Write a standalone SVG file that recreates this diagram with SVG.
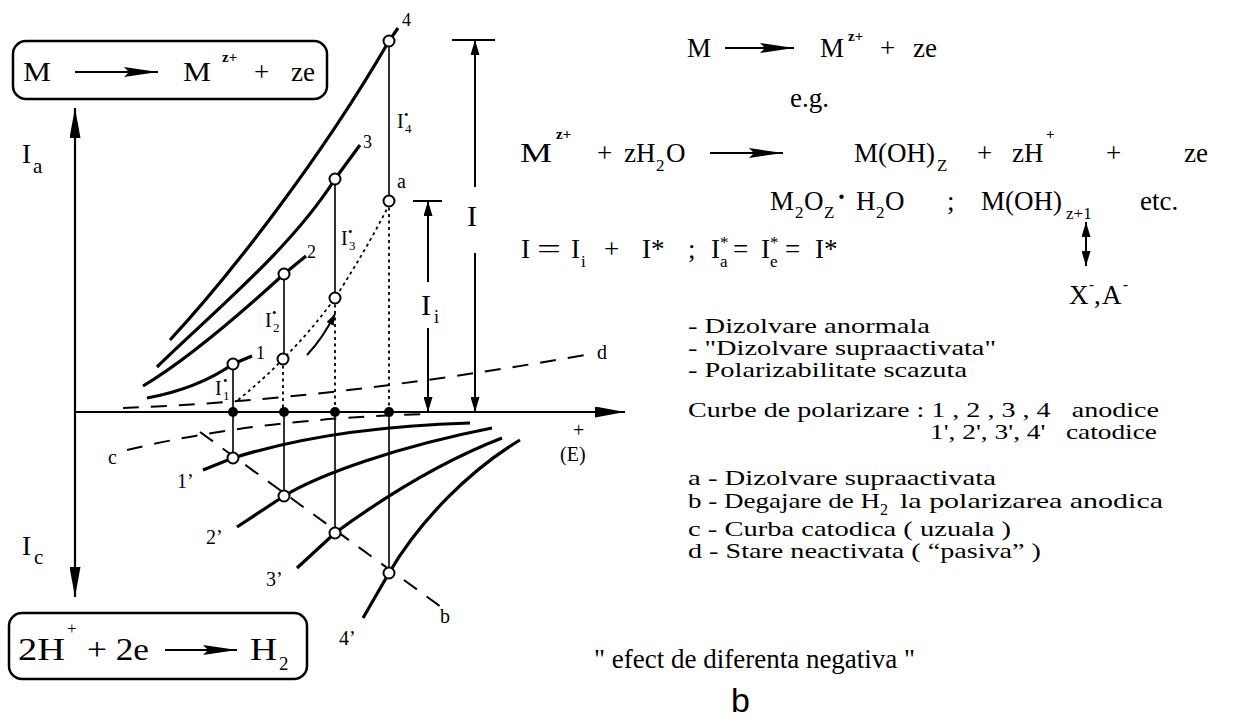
<svg xmlns="http://www.w3.org/2000/svg" width="1243" height="725" viewBox="0 0 1243 725">
<defs>
<style>
text{font-family:"Liberation Serif","Times New Roman",serif;fill:#000}
.t27{font-size:27px}
.t21{font-size:21px}
.sub{font-size:17px}
.sup{font-size:15px;font-weight:bold}
.lbl{font-size:20px}
.sm{font-size:18px}
.thick{fill:none;stroke:#000;stroke-width:3.2}
.thin{fill:none;stroke:#000;stroke-width:1.6}
.dash{fill:none;stroke:#000;stroke-width:2;stroke-dasharray:16 12}
.dot{fill:none;stroke:#000;stroke-width:1.8;stroke-dasharray:3 3.5}
.open{fill:#fff;stroke:#000;stroke-width:2}
.solid{fill:#000}
.box{fill:none;stroke:#000;stroke-width:2.5}
.ax{fill:none;stroke:#000;stroke-width:2.2}
.eqa{fill:none;stroke:#000;stroke-width:2}
.dimw{fill:none;stroke:#000;stroke-width:2}
</style>
<marker id="axh" viewBox="0 0 30 11" refX="30" refY="5.5" markerWidth="30" markerHeight="11" markerUnits="userSpaceOnUse" orient="auto-start-reverse"><path d="M0,0 L30,5.5 L0,11 Z"/></marker>
<marker id="dim" viewBox="0 0 15 9" refX="15" refY="4.5" markerWidth="15" markerHeight="9" markerUnits="userSpaceOnUse" orient="auto-start-reverse"><path d="M0,0 L15,4.5 L0,9 Z"/></marker>
<marker id="eqh" viewBox="0 0 34 10" refX="34" refY="5" markerWidth="34" markerHeight="10" markerUnits="userSpaceOnUse" orient="auto"><path d="M0,0 L34,5 L0,10 L5,5 Z"/></marker>
<marker id="smh" viewBox="0 0 11 8" refX="11" refY="4" markerWidth="11" markerHeight="8" markerUnits="userSpaceOnUse" orient="auto"><path d="M0,0 L11,4 L0,8 Z"/></marker>
</defs>
<rect width="1243" height="725" fill="#fff"/>

<g id="box-anodic">
<rect class="box" x="13" y="41" width="314" height="58" rx="13"/>
<text class="t27" x="23" y="81" textLength="28" lengthAdjust="spacingAndGlyphs">M</text>
<path class="eqa" d="M75,72 H158" marker-end="url(#eqh)"/>
<text class="t27" x="183" y="81" textLength="28" lengthAdjust="spacingAndGlyphs">M</text>
<text class="sup" x="222" y="62">z+</text>
<text class="t27" x="254" y="81">+</text>
<text class="t27" x="291" y="81">ze</text>
</g>

<g id="box-cathodic">
<rect class="box" x="9" y="613" width="298" height="66" rx="13"/>
<text x="18" y="660" font-size="31" textLength="47" lengthAdjust="spacingAndGlyphs">2H</text>
<text x="67" y="634" font-size="17">+</text>
<text x="87" y="660" font-size="31" textLength="62" lengthAdjust="spacingAndGlyphs">+ 2e</text>
<path class="eqa" d="M165,650 H237" marker-end="url(#eqh)"/>
<text x="250" y="660" font-size="31" textLength="27" lengthAdjust="spacingAndGlyphs">H</text>
<text x="279" y="670" font-size="19">2</text>
</g>

<g id="axes">
<path class="ax" d="M75,597 V108" marker-start="url(#axh)" marker-end="url(#axh)"/>
<path class="ax" d="M75,412 H625" marker-end="url(#axh)"/>
<text class="t27" x="22" y="163">I</text><text class="t21" x="33" y="173">a</text>
<text class="t27" x="22" y="555">I</text><text class="t21" x="34" y="564">c</text>
<text class="lbl" x="573" y="437">+</text>
<text class="lbl" x="560" y="461">(E)</text>
</g>

<g id="connectors">
<path class="dash" d="M123,408 Q330,400 585,355"/>
<path class="dash" d="M127,450 Q260,418 432,414"/>
<path class="dash" d="M200,432 L448,612"/>
<path class="thick" d="M170,340 C230,275 320,160 389,41 L398,28"/>
<path class="thick" d="M157,367 C210,315 290,250 335,179 L360,145"/>
<path class="thick" d="M143,386 C190,358 250,305 284,274 L306,256"/>
<path class="thick" d="M147,398 C180,392 210,380 233,364 L252,356"/>
<path class="thick" d="M203,470 L233,458 C290,440 370,426 470,423"/>
<path class="thick" d="M237,527 L284,496 C320,474 400,446 492,428"/>
<path class="thick" d="M297,568 L335,533 C380,500 440,462 502,438"/>
<path class="thick" d="M363,618 L389,573 C420,520 470,470 520,440"/>
<path class="thin" d="M389,41 V201 M335,179 V298 M284,274 V359 M233,364 V412"/>
<path class="dot" d="M283,359 V412 M335,298 V412"/>
<path class="dot" d="M389,201 V412" stroke-dasharray="3 2.5"/>
<path class="thin" d="M233,412 V458 M284,412 V496 M335,412 V533 M389,412 V573"/>
<path class="dot" d="M238,400 Q265,378 283,359 Q312,330 335,298 Q365,252 389,205"/>
<path class="dimw" d="M307,355 Q323,338 335,314" marker-end="url(#smh)"/>
<path class="dimw" d="M452,40 H495 M413,201 H442"/>
<path class="dimw" d="M475,187 V40" marker-end="url(#dim)"/>
<path class="dimw" d="M475,253 V412" marker-end="url(#dim)"/>
<path class="dimw" d="M428,282 V201" marker-end="url(#dim)"/>
<path class="dimw" d="M428,328 V412" marker-end="url(#dim)"/>
</g>

<g id="points">
<circle class="solid" cx="233" cy="412" r="5"/>
<circle class="solid" cx="284" cy="412" r="5"/>
<circle class="solid" cx="335" cy="412" r="5"/>
<circle class="solid" cx="389" cy="412" r="5"/>
<circle class="open" cx="389" cy="41" r="5.5"/>
<circle class="open" cx="389" cy="201" r="5.5"/>
<circle class="open" cx="335" cy="179" r="5.5"/>
<circle class="open" cx="335" cy="298" r="5.5"/>
<circle class="open" cx="284" cy="274" r="5.5"/>
<circle class="open" cx="283" cy="359" r="5.5"/>
<circle class="open" cx="233" cy="364" r="5.5"/>
<circle class="open" cx="233" cy="458" r="5.5"/>
<circle class="open" cx="284" cy="496" r="5.5"/>
<circle class="open" cx="335" cy="533" r="5.5"/>
<circle class="open" cx="389" cy="573" r="5.5"/>
</g>

<g id="curve-labels">
<text class="sm" x="402" y="26">4</text>
<text class="sm" x="363" y="148">3</text>
<text class="sm" x="307" y="258">2</text>
<text class="sm" x="256" y="359">1</text>
<text class="lbl" x="397" y="188">a</text>
<text class="lbl" x="108" y="464">c</text>
<text class="lbl" x="597" y="359">d</text>
<text class="lbl" x="440" y="623">b</text>
<text class="lbl" x="177" y="488">1’</text>
<text class="lbl" x="206" y="544">2’</text>
<text class="lbl" x="266" y="586">3’</text>
<text class="lbl" x="339" y="645">4’</text>
<text class="lbl" x="397" y="128">I</text><text x="405" y="133" font-size="13">4</text><text x="404" y="119" font-size="13">•</text>
<text class="lbl" x="341" y="245">I</text><text x="349" y="250" font-size="13">3</text><text x="348" y="236" font-size="13">•</text>
<text class="lbl" x="265" y="327">I</text><text x="273" y="332" font-size="13">2</text><text x="272" y="317" font-size="13">•</text>
<text class="lbl" x="215" y="395">I</text><text x="223" y="400" font-size="13">1</text><text x="223" y="385" font-size="13">•</text>
<text x="467" y="226" font-size="30">I</text>
<text x="421" y="315" font-size="30">I</text><text x="434" y="323" font-size="18">i</text>
</g>

<g id="equations">
<text class="t27" x="687" y="57">M</text>
<path class="eqa" d="M725,48 H794" marker-end="url(#eqh)"/>
<text class="t27" x="820" y="57">M</text>
<text class="sup" x="848" y="41">z+</text>
<text class="t27" x="880" y="57">+</text>
<text class="t27" x="913" y="57">ze</text>
<text class="t27" x="790" y="107" font-size="28">e.g.</text>

<text class="t27" x="520" y="162" textLength="32" lengthAdjust="spacingAndGlyphs">M</text>
<text class="sup" x="556" y="139">z+</text>
<text class="t27" x="597" y="162">+</text>
<text class="t27" x="624" y="162">zH</text>
<text class="sub" x="656" y="171">2</text>
<text class="t27" x="666" y="162">O</text>
<path class="eqa" d="M710,153 H783" marker-end="url(#eqh)"/>
<text class="t27" x="854" y="162" font-size="28">M(OH)</text>
<text class="sub" x="937" y="171">Z</text>
<text class="t27" x="977" y="162">+</text>
<text class="t27" x="1012" y="162">zH</text>
<text class="sup" x="1046" y="139" font-weight="normal">+</text>
<text class="t27" x="1106" y="162">+</text>
<text class="t27" x="1184" y="162" font-size="28">ze</text>

<text class="t27" x="770" y="210">M</text>
<text class="sub" x="795" y="218">2</text>
<text class="t27" x="804" y="210">O</text>
<text class="sub" x="824" y="218">Z</text>
<text class="t27" x="837" y="206" font-weight="bold">·</text>
<text class="t27" x="856" y="210">H</text>
<text class="sub" x="876" y="218">2</text>
<text class="t27" x="885" y="210">O</text>
<text class="t27" x="947" y="210">;</text>
<text class="t27" x="981" y="210" font-size="28">M(OH)</text>
<text class="sub" x="1066" y="219" font-size="18">z+1</text>
<text class="t27" x="1140" y="210">etc.</text>

<text class="t27" x="521" y="258">I</text>
<text class="t27" x="537" y="258" textLength="24" lengthAdjust="spacingAndGlyphs">=</text>
<text class="t27" x="571" y="258">I</text>
<text class="sub" x="581" y="267">i</text>
<text class="t27" x="604" y="258">+</text>
<text class="t27" x="642" y="258">I*</text>
<text class="t27" x="688" y="258">;</text>
<text class="t27" x="711" y="258">I</text>
<text class="sub" x="720" y="267">a</text>
<text class="sub" x="720" y="248">*</text>
<text class="t27" x="733" y="258">=</text>
<text class="t27" x="761" y="258">I</text>
<text class="sub" x="770" y="267">e</text>
<text class="sub" x="770" y="248">*</text>
<text class="t27" x="785" y="258">=</text>
<text class="t27" x="815" y="258" font-size="28">I*</text>

<path class="dimw" d="M1086,222 V266" marker-start="url(#dim)" marker-end="url(#dim)"/>
<text class="t27" x="1069" y="304">X</text>
<text class="sup" x="1089" y="289">-</text>
<text class="t27" x="1094" y="304">,</text>
<text class="t27" x="1102" y="304">A</text>
<text class="sup" x="1123" y="289">-</text>
</g>

<g id="legend">
<text class="t21" x="688" y="333" textLength="242" lengthAdjust="spacingAndGlyphs">- Dizolvare anormala</text>
<text class="t21" x="688" y="355" textLength="308" lengthAdjust="spacingAndGlyphs">- "Dizolvare supraactivata"</text>
<text class="t21" x="688" y="377" textLength="279" lengthAdjust="spacingAndGlyphs">- Polarizabilitate scazuta</text>
<text class="t21" x="688" y="417" textLength="471" lengthAdjust="spacingAndGlyphs">Curbe de polarizare : 1 , 2 , 3 , 4&#160;&#160; anodice</text>
<text class="t21" x="930" y="439" textLength="227" lengthAdjust="spacingAndGlyphs">1', 2', 3', 4'&#160;&#160; catodice</text>
<text class="t21" x="688" y="485" textLength="308" lengthAdjust="spacingAndGlyphs">a - Dizolvare supraactivata</text>
<text class="t21" x="688" y="508"><tspan textLength="192" lengthAdjust="spacingAndGlyphs">b - Degajare de H</tspan><tspan font-size="16" dy="7">2</tspan><tspan dy="-7" x="900" textLength="263" lengthAdjust="spacingAndGlyphs">la polarizarea anodica</tspan></text>
<text class="t21" x="688" y="536" textLength="323" lengthAdjust="spacingAndGlyphs">c - Curba catodica ( uzuala )</text>
<text class="t21" x="688" y="558" textLength="353" lengthAdjust="spacingAndGlyphs">d - Stare neactivata ( “pasiva” )</text>
</g>

<g id="caption">
<text class="t27" x="594" y="668">" efect de diferenta negativa "</text>
<text x="731" y="712" font-size="34" style="font-family:'Liberation Sans',Arial,sans-serif">b</text>
</g>
</svg>
